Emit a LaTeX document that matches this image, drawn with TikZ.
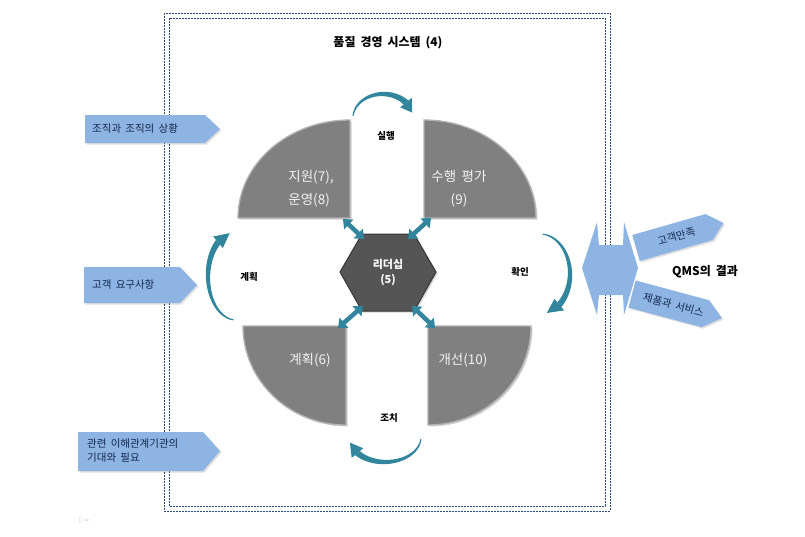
\documentclass[tikz,border=0pt]{standalone}
\usepackage{fontspec}
\setmainfont{Noto Sans CJK KR}[WordSpace=1.8]
\newfontfamily\symfont{DejaVu Sans}
\usetikzlibrary{arrows.meta,shadows}
\definecolor{framec}{RGB}{45,75,120}
\definecolor{boxblue}{RGB}{141,180,226}
\definecolor{boxtext}{RGB}{20,40,80}
\definecolor{cyc}{RGB}{49,133,156}
\definecolor{secgray}{RGB}{128,128,128}
\definecolor{secedge}{RGB}{178,178,178}
\definecolor{hexgray}{RGB}{85,85,85}
\definecolor{hexedge}{RGB}{55,55,55}
\definecolor{seclab}{RGB}{242,242,242}
\newcommand{\cycarrow}[7]{%
 \fill[cyc] plot[domain=#5:#6,samples=36] ({#1+(#3+0.5+2.6*(\x-(#5))/((#6)-(#5)))*cos(\x)},{#2+(#4+0.5+2.6*(\x-(#5))/((#6)-(#5)))*sin(\x)})
   -- plot[domain=#6:#5,samples=36] ({#1+(#3-0.5-2.6*(\x-(#5))/((#6)-(#5)))*cos(\x)},{#2+(#4-0.5-2.6*(\x-(#5))/((#6)-(#5)))*sin(\x)}) -- cycle;
 \fill[cyc] ({#1+(#3-7.5)*cos(#6)},{#2+(#4-7.5)*sin(#6)}) -- ({#1+(#3+7.5)*cos(#6)},{#2+(#4+7.5)*sin(#6)}) -- ({#1+#3*cos(#7)},{#2+#4*sin(#7)}) -- cycle;
}
\tikzset{
 framedash/.style={draw=framec, line width=0.9pt, dash pattern=on 2pt off 1pt},
 bluebox/.style={fill=boxblue, drop shadow={shadow xshift=1.5pt, shadow yshift=-1.5pt, opacity=0.25}},
 boxtxt/.style={text=boxtext, font=\fontsize{10.5}{14}\selectfont, inner sep=0pt},
 sector/.style={fill=secgray, draw=secedge, line width=1.3pt, drop shadow={shadow xshift=1.5pt, shadow yshift=-1.5pt, opacity=0.35}},
 seclabel/.style={text=seclab, font=\fontsize{13.5}{23}\selectfont, inner sep=0pt},
 cyclabel/.style={text=black, font=\bfseries\fontsize{9.5}{11}\selectfont, inner sep=0pt},
 dblarrow/.style={draw=cyc, line width=4.5pt, {Triangle[width=13pt,length=8pt]}-{Triangle[width=13pt,length=8pt]}}
}
\begin{document}
\begin{tikzpicture}[x=1pt,y=-1pt]
\useasboundingbox (0,0) rectangle (805,536);
\fill[white] (0,0) rectangle (805,536);
% frame
\draw[framedash] (164,13) rectangle (610,511);
\draw[framedash] (169,18) rectangle (605,506);
\node[font=\bfseries\fontsize{12}{14}\selectfont, inner sep=0pt] (title) at (388,43) {품질 경영 시스템 (4)};
% sectors
\path[sector] (350,218) -- (350,120) arc[start angle=-90,end angle=-180,x radius=112,y radius=98] -- cycle;
\path[sector] (424,218) -- (424,120) arc[start angle=-90,end angle=0,x radius=112,y radius=98] -- cycle;
\path[sector] (346,326) -- (243,326) arc[start angle=180,end angle=90,x radius=103,y radius=99] -- cycle;
\path[sector] (428,326) -- (531,326) arc[start angle=0,end angle=90,x radius=103,y radius=99] -- cycle;
\node[seclabel, align=left] (s78) at (311,189) {지원(7),\\운영(8)};
\node[seclabel, align=center] (s9) at (459,189) {수행 평가\\(9)};
\node[seclabel] (s6) at (310,360) {계획(6)};
\node[seclabel] (s10) at (463,360) {개선(10)};
% hexagon
\path[fill=hexgray, draw=hexedge, line width=1pt, drop shadow={shadow xshift=1.5pt, shadow yshift=-1.5pt, opacity=0.35}]
  (340,272) -- (362,234) -- (414,234) -- (436,272) -- (414,311) -- (362,311) -- cycle;
\node[text=white, font=\bfseries\fontsize{11}{15}\selectfont, align=center, inner sep=0pt] (lead) at (388,272) {리더십\\(5)};
% connectors
\coordinate (tlc) at (343,219); \coordinate (htl) at (364,239);
\coordinate (trc) at (431,218); \coordinate (htr) at (408,239);
\coordinate (blc) at (338,328); \coordinate (hbl) at (363,306);
\coordinate (brc) at (435,328); \coordinate (hbr) at (412,306);
\draw[dblarrow] (tlc) -- (htl);
\draw[dblarrow] (trc) -- (htr);
\draw[dblarrow] (blc) -- (hbl);
\draw[dblarrow] (brc) -- (hbr);
% cycle arrows
\cycarrow{383}{118}{30}{24}{-175}{-40}{-13}
\cycarrow{385}{437}{36}{25}{5}{140}{167}
\cycarrow{236}{276}{28}{44}{95}{230}{257}
\cycarrow{540}{274}{30}{40}{-85}{50}{77}
\node[cyclabel] (do) at (386,136) {실행};
\node[cyclabel] (plan) at (249,277) {계획};
\node[cyclabel] (check) at (520,272) {확인};
\node[cyclabel] (act) at (389,418) {조치};
% left inputs
\path[bluebox] (85,115) -- (205,115) -- (220,129) -- (205,143) -- (85,143) -- cycle;
\node[boxtxt, anchor=west] (in1) at (92,129) {조직과 조직의 상황};
\path[bluebox] (84,267) -- (180,267) -- (197,285) -- (180,303) -- (84,303) -- cycle;
\node[boxtxt, anchor=west] (in2) at (92,285) {고객 요구사항};
\path[bluebox] (78,432) -- (203,432) -- (220,451) -- (203,471) -- (78,471) -- cycle;
\node[boxtxt, anchor=west, align=left, font=\fontsize{10.5}{14}\selectfont] (in3) at (87,451) {관련 이해관계기관의\\기대와 필요};
% right outputs
\fill[boxblue] (597,222) -- (599,245) -- (623,245) -- (624,222) -- (638,268) -- (624,315) -- (623,295) -- (599,295) -- (597,315) -- (582,268) -- cycle;
\begin{scope}[shift={(636,248)}, rotate=16]
 \path[bluebox] (0,-13.5) -- (76,-13.5) -- (91,0) -- (76,13.5) -- (0,13.5) -- cycle;
 \node[boxtxt, rotate=16] (sat) at (42,0) {고객만족};
\end{scope}
\begin{scope}[shift={(632,294)}, rotate=-15]
 \path[bluebox] (0,-14) -- (76,-14) -- (93,0) -- (76,14) -- (0,14) -- cycle;
 \node[boxtxt, rotate=-15] (prod) at (43,0) {제품과 서비스};
\end{scope}
\node[font=\bfseries\fontsize{12}{14}\selectfont, inner sep=0pt] (qms) at (705,272) {QMS의 결과};
\node[text=gray!45, font=\symfont\fontsize{7}{8}\selectfont, inner sep=0pt] (mark) at (84,521) {| ⇨};
\end{tikzpicture}
\end{document}
